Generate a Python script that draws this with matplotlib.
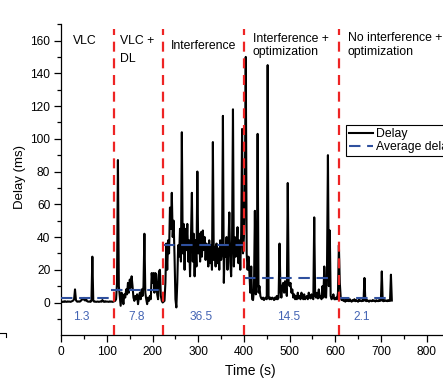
import numpy as np
import matplotlib
matplotlib.use("Agg")
import matplotlib.pyplot as plt
from matplotlib.lines import Line2D

plt.rcParams['font.family'] = ['Liberation Sans', 'DejaVu Sans']

# delay samples, one every 2 s (rows of 20 s)
delay = [
    0.5, 0.3, 0.6, 0.4, 0.8, 0.5, 0.4, 0.7, 0.5, 0.6,
    0.4, 0.6, 0.9, 1.2, 2.0, 8.0, 1.5, 0.6, 0.5, 0.7,
    0.5, 0.8, 1.5, 2.5, 1.8, 2.8, 1.2, 2.4, 0.9, 0.6,
    0.5, 0.7, 0.4, 1.0, 28.0, 1.2, 0.5, 0.6, 0.4, 0.5,
    0.6, 0.4, 0.5, 0.7, 0.5, 1.5, 0.6, 0.4, 0.8, 0.5,
    0.6, 0.5, 0.4, 0.7, 0.5, 0.6, 0.4, 0.5, 0.8, 1.0,
    2.0, 12.0, 87.0, 10.0, 4.0, -2.0, 6.0, 3.0, -1.0, 5.0,
    3.0, 8.0, 5.0, 12.0, 6.0, 14.0, 9.0, 16.0, 10.0, 3.0,
    1.0, 4.0, 2.0, 5.0, -1.0, 3.0, 6.0, 2.0, 8.0, 4.0,
    10.0, 42.0, 6.0, 2.0, -1.0, 3.0, 1.0, 4.0, 2.0, 18.0,
    12.0, 18.0, 6.0, 18.0, 17.0, 5.0, 2.0, 19.0, 20.0, 4.0,
    1.0, 0.0, 0.5, 1.0, 12.0, 36.0, 20.0, 38.0, 30.0, 58.0,
    45.0, 67.0, 40.0, 50.0, 28.0, 2.0, -3.0, 12.0, 35.0, 28.0,
    45.0, 25.0, 104.0, 30.0, 48.0, 20.0, 45.0, 32.0, 48.0, 25.0,
    38.0, 16.0, 40.0, 67.0, 25.0, 42.0, 16.0, 38.0, 22.0, 80.0,
    30.0, 42.0, 25.0, 43.0, 28.0, 44.0, 32.0, 40.0, 26.0, 36.0,
    30.0, 22.0, 38.0, 24.0, 35.0, 20.0, 98.0, 26.0, 34.0, 22.0,
    36.0, 24.0, 33.0, 20.0, 38.0, 26.0, 30.0, 114.0, 12.0, 35.0,
    28.0, 40.0, 20.0, 34.0, 55.0, 25.0, 16.0, 38.0, 118.0, 22.0,
    40.0, 28.0, 36.0, 46.0, 24.0, 38.0, 20.0, 42.0, 106.0, 30.0,
    40.0, 65.0, 150.0, 30.0, 20.0, 28.0, 18.0, 6.0, 22.0, 2.0,
    1.5, 8.0, 56.0, 5.0, 12.0, 103.0, 6.0, 10.0, 4.0, 2.5,
    2.0, 3.0, 1.5, 2.5, 3.0, 2.0, 145.0, 4.0, 2.0, 3.0,
    2.0, 3.0, 2.5, 1.5, 3.0, 2.0, 4.0, 2.0, 3.0, 36.0,
    8.0, 3.0, 10.0, 12.0, 6.0, 13.0, 9.0, 4.0, 73.0, 12.0,
    10.0, 12.0, 6.0, 8.0, 3.0, 5.0, 2.0, 4.0, 2.0, 6.0,
    2.5, 4.0, 2.0, 6.0, 3.0, 2.0, 5.0, 2.0, 3.0, 4.0,
    2.0, 6.0, 3.0, 2.5, 5.0, 3.0, 2.0, 52.0, 4.0, 3.0,
    6.0, 2.5, 8.0, 3.0, 4.0, 2.0, 10.0, 3.0, 22.0, 4.0,
    3.0, 22.0, 90.0, 10.0, 44.0, 4.0, 2.0, 3.0, 5.0, 2.0,
    2.0, 3.0, 2.0, 6.0, 35.0, 12.0, 3.0, 1.5, 2.0, 1.0,
    1.5, 0.5, 2.0, 1.0, 1.5, 0.8, 2.0, 1.0, 0.5, 1.5,
    1.0, 2.0, 0.8, 1.5, 1.0, 0.5, 1.8, 1.0, 1.2, 0.8,
    1.5, 1.0, 15.0, 1.2, 0.8, 1.5, 1.0, 0.5, 1.2, 1.0,
    0.8, 1.5, 1.0, 1.2, 0.6, 1.4, 1.0, 0.8, 1.5, 1.0,
    1.2, 19.0, 1.0, 0.8, 1.5, 1.0, 1.2, 0.8, 1.5, 1.0,
    1.0, 17.0, 1.2,
]
time = np.arange(len(delay)) * 2.0

# phase boundaries (s)
boundaries = [116, 222, 401, 608]

# average delay segments
avg_start = [0, 109, 222, 401, 605]
avg_end = [107, 220, 400, 592, 713]
avg_level = [3.0, 7.5, 35.3, 14.8, 2.9]
avg_labels = ['1.3', '7.8', '36.5', '14.5', '2.1']
avg_label_x = [43, 165, 307, 497, 659]

# phase names: (x, y, text)
phases = [
    (26, 159.7, 'VLC'),
    (129, 159.5, 'VLC +'),
    (129, 148.5, 'DL'),
    (240, 156.5, 'Interference'),
    (419, 161.0, 'Interference +'),
    (419, 152.8, 'optimization'),
    (627, 161.8, 'No interference +'),
    (627, 152.8, 'optimization'),
]

red = '#ee2424'
blue = '#2f509e'
blue_txt = '#4364b4'

fig = plt.figure(figsize=(4.43, 3.85), dpi=100)
ax = fig.add_axes([0.1384, 0.1292, 0.9275, 0.808])

ax.plot(time, delay, color='black', lw=1.5, label='Delay', zorder=3)

for i in range(len(avg_level)):
    ax.plot([avg_start[i], avg_end[i]], [avg_level[i], avg_level[i]],
            color=blue, lw=1.5, dashes=(5.5, 3.2), zorder=4,
            label='Average delay' if i == 0 else None)
    ax.text(avg_label_x[i], -8.7, avg_labels[i], color=blue_txt,
            fontsize=8.6, ha='center', va='center')

for b in boundaries:
    ax.plot([b, b], [-20, 167], color=red, lw=1.6, dashes=(4.5, 3.0), zorder=5)

for x, y, s in phases:
    ax.text(x, y, s, fontsize=8.8, ha='left', va='center')

ax.set_xlim(0, 900)
ax.set_ylim(-20, 170)
ax.set_xticks(range(0, 801, 100))
ax.set_xticks(range(50, 851, 100), minor=True)
ax.set_yticks(range(0, 161, 20))
ax.set_yticks([-10, 10, 30, 50, 70, 90, 110, 130, 150, 170], minor=True)
ax.tick_params(which='major', direction='out', length=5, width=0.9, labelsize=8.6, pad=3)
ax.tick_params(which='minor', direction='out', length=2.7, width=0.9)
ax.spines['top'].set_visible(False)
ax.spines['right'].set_visible(False)
for sp in ['left', 'bottom']:
    ax.spines[sp].set_linewidth(0.9)

fig.text(250 / 443, 1 - 371 / 385, 'Time (s)', fontsize=10, ha='center', va='center')
fig.text(20 / 443, 1 - 177 / 385, 'Delay (ms)', fontsize=9.5, ha='center', va='center',
         rotation=90)

# legend runs past the right edge, as in the reference
leg = ax.legend(loc='upper left', bbox_to_anchor=(345.7 / 443, 1 - 125 / 385),
                bbox_transform=fig.transFigure, fontsize=8.8, frameon=True,
                fancybox=False, framealpha=1, edgecolor='black', borderpad=0.25,
                handlelength=2.0, handletextpad=0.2, labelspacing=0.1,
                borderaxespad=0)
leg.get_frame().set_linewidth(0.8)

# small stray mark at lower left
fig.add_artist(Line2D([0, 5.7 / 443, 5.7 / 443], [1 - 333.3 / 385, 1 - 333.3 / 385, 1 - 337 / 385],
                      color='black', lw=0.8))

fig.savefig('out.png', dpi=100)
